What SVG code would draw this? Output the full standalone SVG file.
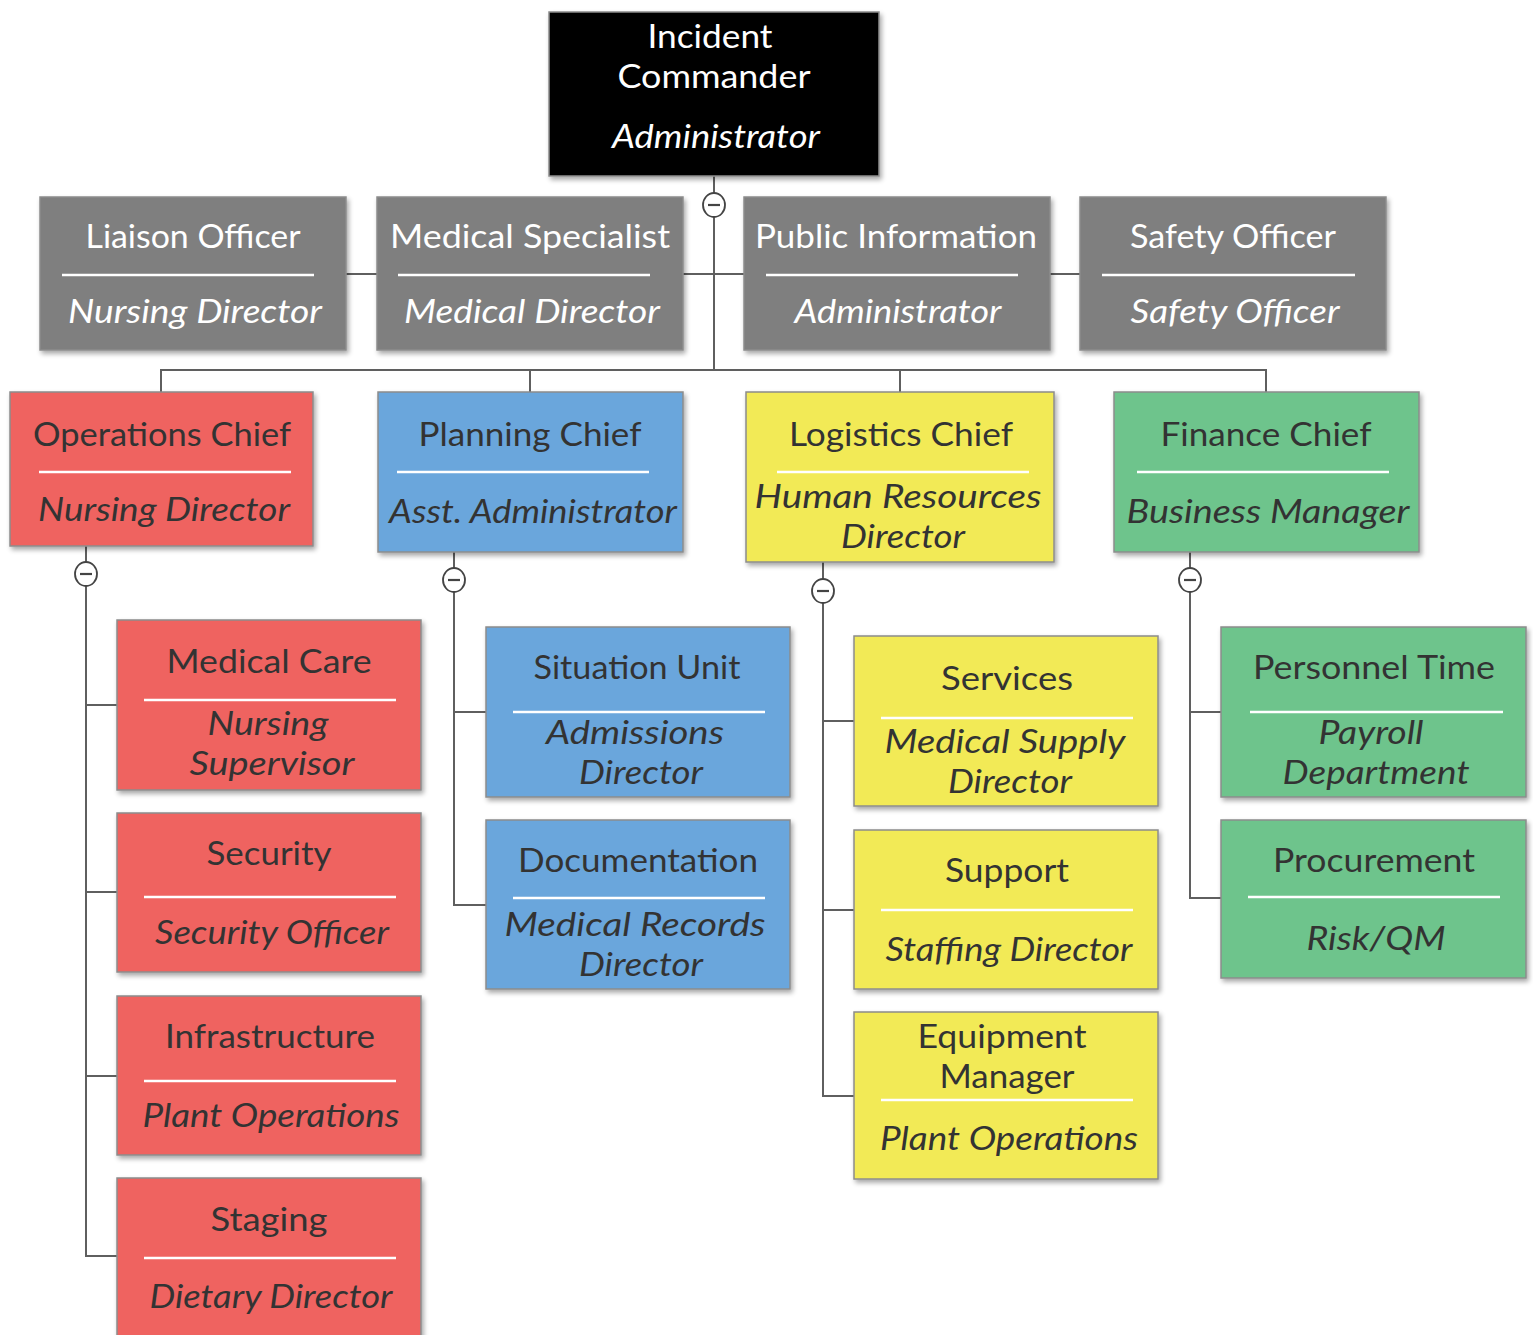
<svg xmlns="http://www.w3.org/2000/svg" width="1533" height="1335" viewBox="0 0 1533 1335">
  <style>
    .box { stroke: #8c8c8c; stroke-width: 1.5; filter: url(#shadow); }
    .k { fill: #040404; }
    .g { fill: #7f7f7f; }
    .r { fill: #ef6461; }
    .b { fill: #6aa6dc; }
    .y { fill: #f2ea57; }
    .n { fill: #6ec48c; }
    .sep { stroke: #ffffff; stroke-width: 2.5; }
    text { font-family: "Lato", "Open Sans", "Liberation Sans", sans-serif; font-size: 32px; text-anchor: middle; }
    .t { fill: #333333; }
    .w { fill: #ffffff; }
    .i { font-style: italic; }
    .wire { fill: none; stroke: #5f5f5f; stroke-width: 2; }
    .tog ellipse { fill: #ffffff; stroke: #444444; stroke-width: 1.8; }
    .tog line { stroke: #444444; stroke-width: 2.2; }
  </style>
  <defs>
    <filter id="shadow" x="-5%" y="-5%" width="112%" height="115%">
      <feGaussianBlur in="SourceAlpha" stdDeviation="2.5"/>
      <feOffset dx="2" dy="3" result="sb"/>
      <feComponentTransfer><feFuncA type="linear" slope="0.35"/></feComponentTransfer>
      <feMerge><feMergeNode/><feMergeNode in="SourceGraphic"/></feMerge>
    </filter>
  </defs>
  <rect width="1533" height="1335" fill="#ffffff"/>

  <!-- connectors -->
  <g id="connectors" class="wire">
    <line x1="714" y1="176" x2="714" y2="370"/>
    <line x1="346" y1="274" x2="377" y2="274"/>
    <line x1="683" y1="274" x2="744" y2="274"/>
    <line x1="1050" y1="274" x2="1080" y2="274"/>
    <path d="M161 392 V370 H1266 V392"/>
    <line x1="530" y1="370" x2="530" y2="392"/>
    <line x1="900" y1="370" x2="900" y2="392"/>
    <!-- operations -->
    <path d="M86 546 V1256 H117"/>
    <line x1="86" y1="705" x2="117" y2="705"/>
    <line x1="86" y1="892" x2="117" y2="892"/>
    <line x1="86" y1="1076" x2="117" y2="1076"/>
    <!-- planning -->
    <path d="M454 552 V905 H486"/>
    <line x1="454" y1="712" x2="486" y2="712"/>
    <!-- logistics -->
    <path d="M823 562 V1096 H854"/>
    <line x1="823" y1="721" x2="854" y2="721"/>
    <line x1="823" y1="910" x2="854" y2="910"/>
    <!-- finance -->
    <path d="M1190 552 V898 H1221"/>
    <line x1="1190" y1="712" x2="1221" y2="712"/>
  </g>

  <!-- collapse toggles -->
  <g id="toggles" class="tog">
    <g><ellipse cx="714" cy="205" rx="11" ry="12"/><line x1="708" y1="205" x2="720" y2="205"/></g>
    <g><ellipse cx="86" cy="574" rx="11" ry="12"/><line x1="80" y1="574" x2="92" y2="574"/></g>
    <g><ellipse cx="454" cy="580" rx="11" ry="12"/><line x1="448" y1="580" x2="460" y2="580"/></g>
    <g><ellipse cx="823" cy="591" rx="11" ry="12"/><line x1="817" y1="591" x2="829" y2="591"/></g>
    <g><ellipse cx="1190" cy="580" rx="11" ry="12"/><line x1="1184" y1="580" x2="1196" y2="580"/></g>
  </g>

  <!-- command -->
  <g id="incident-commander">
    <rect class="box k" x="549" y="12" width="330" height="164"/>
    <text class="w" x="710" y="48" textLength="125" lengthAdjust="spacingAndGlyphs">Incident</text>
    <text class="w" x="714" y="88" textLength="193" lengthAdjust="spacingAndGlyphs">Commander</text>
    <text class="w i" x="716" y="148" textLength="208" lengthAdjust="spacingAndGlyphs">Administrator</text>
  </g>

  <!-- command staff -->
  <g id="liaison-officer">
    <rect class="box g" x="40" y="197" width="306" height="153"/>
    <text class="w" x="193" y="248" textLength="215" lengthAdjust="spacingAndGlyphs">Liaison Officer</text>
    <line class="sep" x1="62" y1="275" x2="314" y2="275"/>
    <text class="w i" x="195" y="323" textLength="254" lengthAdjust="spacingAndGlyphs">Nursing Director</text>
  </g>
  <g id="medical-specialist">
    <rect class="box g" x="377" y="197" width="306" height="153"/>
    <text class="w" x="530" y="248" textLength="280" lengthAdjust="spacingAndGlyphs">Medical Specialist</text>
    <line class="sep" x1="398" y1="275" x2="650" y2="275"/>
    <text class="w i" x="532" y="323" textLength="256" lengthAdjust="spacingAndGlyphs">Medical Director</text>
  </g>
  <g id="public-information">
    <rect class="box g" x="744" y="197" width="306" height="153"/>
    <text class="w" x="896" y="248" textLength="282" lengthAdjust="spacingAndGlyphs">Public Information</text>
    <line class="sep" x1="766" y1="275" x2="1018" y2="275"/>
    <text class="w i" x="898" y="323" textLength="207" lengthAdjust="spacingAndGlyphs">Administrator</text>
  </g>
  <g id="safety-officer">
    <rect class="box g" x="1080" y="197" width="306" height="153"/>
    <text class="w" x="1233" y="248" textLength="206" lengthAdjust="spacingAndGlyphs">Safety Officer</text>
    <line class="sep" x1="1102" y1="275" x2="1355" y2="275"/>
    <text class="w i" x="1235" y="323" textLength="209" lengthAdjust="spacingAndGlyphs">Safety Officer</text>
  </g>

  <!-- section chiefs -->
  <g id="operations-chief">
    <rect class="box r" x="10" y="392" width="303" height="154"/>
    <text class="t" x="162" y="446" textLength="258" lengthAdjust="spacingAndGlyphs">Operations Chief</text>
    <line class="sep" x1="39" y1="472" x2="291" y2="472"/>
    <text class="t i" x="164" y="521" textLength="252" lengthAdjust="spacingAndGlyphs">Nursing Director</text>
  </g>
  <g id="planning-chief">
    <rect class="box b" x="378" y="392" width="305" height="160"/>
    <text class="t" x="530" y="446" textLength="223" lengthAdjust="spacingAndGlyphs">Planning Chief</text>
    <line class="sep" x1="397" y1="472" x2="649" y2="472"/>
    <text class="t i" x="533" y="523" textLength="288" lengthAdjust="spacingAndGlyphs">Asst. Administrator</text>
  </g>
  <g id="logistics-chief">
    <rect class="box y" x="746" y="392" width="308" height="170"/>
    <text class="t" x="901" y="446" textLength="224" lengthAdjust="spacingAndGlyphs">Logistics Chief</text>
    <line class="sep" x1="777" y1="472" x2="1029" y2="472"/>
    <text class="t i" x="898" y="508" textLength="287" lengthAdjust="spacingAndGlyphs">Human Resources</text>
    <text class="t i" x="903" y="548" textLength="124" lengthAdjust="spacingAndGlyphs">Director</text>
  </g>
  <g id="finance-chief">
    <rect class="box n" x="1114" y="392" width="305" height="160"/>
    <text class="t" x="1266" y="446" textLength="211" lengthAdjust="spacingAndGlyphs">Finance Chief</text>
    <line class="sep" x1="1137" y1="472" x2="1389" y2="472"/>
    <text class="t i" x="1268" y="523" textLength="283" lengthAdjust="spacingAndGlyphs">Business Manager</text>
  </g>

  <!-- operations units -->
  <g id="medical-care">
    <rect class="box r" x="117" y="620" width="304" height="170"/>
    <text class="t" x="269" y="673" textLength="205" lengthAdjust="spacingAndGlyphs">Medical Care</text>
    <line class="sep" x1="144" y1="700" x2="396" y2="700"/>
    <text class="t i" x="268" y="735" textLength="121" lengthAdjust="spacingAndGlyphs">Nursing</text>
    <text class="t i" x="272" y="775" textLength="165" lengthAdjust="spacingAndGlyphs">Supervisor</text>
  </g>
  <g id="security">
    <rect class="box r" x="117" y="813" width="304" height="159"/>
    <text class="t" x="269" y="865" textLength="125" lengthAdjust="spacingAndGlyphs">Security</text>
    <line class="sep" x1="144" y1="897" x2="396" y2="897"/>
    <text class="t i" x="272" y="944" textLength="234" lengthAdjust="spacingAndGlyphs">Security Officer</text>
  </g>
  <g id="infrastructure">
    <rect class="box r" x="117" y="996" width="304" height="159"/>
    <text class="t" x="270" y="1048" textLength="210" lengthAdjust="spacingAndGlyphs">Infrastructure</text>
    <line class="sep" x1="144" y1="1081" x2="396" y2="1081"/>
    <text class="t i" x="271" y="1127" textLength="257" lengthAdjust="spacingAndGlyphs">Plant Operations</text>
  </g>
  <g id="staging">
    <rect class="box r" x="117" y="1178" width="304" height="170"/>
    <text class="t" x="269" y="1231" textLength="117" lengthAdjust="spacingAndGlyphs">Staging</text>
    <line class="sep" x1="144" y1="1258" x2="396" y2="1258"/>
    <text class="t i" x="271" y="1308" textLength="243" lengthAdjust="spacingAndGlyphs">Dietary Director</text>
  </g>

  <!-- planning units -->
  <g id="situation-unit">
    <rect class="box b" x="486" y="627" width="304" height="170"/>
    <text class="t" x="637" y="679" textLength="207" lengthAdjust="spacingAndGlyphs">Situation Unit</text>
    <line class="sep" x1="513" y1="712" x2="765" y2="712"/>
    <text class="t i" x="635" y="744" textLength="178" lengthAdjust="spacingAndGlyphs">Admissions</text>
    <text class="t i" x="641" y="784" textLength="124" lengthAdjust="spacingAndGlyphs">Director</text>
  </g>
  <g id="documentation">
    <rect class="box b" x="486" y="820" width="304" height="169"/>
    <text class="t" x="638" y="872" textLength="240" lengthAdjust="spacingAndGlyphs">Documentation</text>
    <line class="sep" x1="513" y1="898" x2="765" y2="898"/>
    <text class="t i" x="635" y="936" textLength="261" lengthAdjust="spacingAndGlyphs">Medical Records</text>
    <text class="t i" x="641" y="976" textLength="124" lengthAdjust="spacingAndGlyphs">Director</text>
  </g>

  <!-- logistics units -->
  <g id="services">
    <rect class="box y" x="854" y="636" width="304" height="170"/>
    <text class="t" x="1007" y="690" textLength="132" lengthAdjust="spacingAndGlyphs">Services</text>
    <line class="sep" x1="881" y1="718" x2="1133" y2="718"/>
    <text class="t i" x="1005" y="753" textLength="241" lengthAdjust="spacingAndGlyphs">Medical Supply</text>
    <text class="t i" x="1010" y="793" textLength="124" lengthAdjust="spacingAndGlyphs">Director</text>
  </g>
  <g id="support">
    <rect class="box y" x="854" y="830" width="304" height="159"/>
    <text class="t" x="1007" y="882" textLength="124" lengthAdjust="spacingAndGlyphs">Support</text>
    <line class="sep" x1="881" y1="910" x2="1133" y2="910"/>
    <text class="t i" x="1009" y="961" textLength="247" lengthAdjust="spacingAndGlyphs">Staffing Director</text>
  </g>
  <g id="equipment-manager">
    <rect class="box y" x="854" y="1012" width="304" height="167"/>
    <text class="t" x="1002" y="1048" textLength="169" lengthAdjust="spacingAndGlyphs">Equipment</text>
    <text class="t" x="1007" y="1088" textLength="135" lengthAdjust="spacingAndGlyphs">Manager</text>
    <line class="sep" x1="881" y1="1100" x2="1133" y2="1100"/>
    <text class="t i" x="1009" y="1150" textLength="258" lengthAdjust="spacingAndGlyphs">Plant Operations</text>
  </g>

  <!-- finance units -->
  <g id="personnel-time">
    <rect class="box n" x="1221" y="627" width="305" height="170"/>
    <text class="t" x="1374" y="679" textLength="242" lengthAdjust="spacingAndGlyphs">Personnel Time</text>
    <line class="sep" x1="1250" y1="712" x2="1503" y2="712"/>
    <text class="t i" x="1371" y="744" textLength="105" lengthAdjust="spacingAndGlyphs">Payroll</text>
    <text class="t i" x="1376" y="784" textLength="187" lengthAdjust="spacingAndGlyphs">Department</text>
  </g>
  <g id="procurement">
    <rect class="box n" x="1221" y="820" width="305" height="158"/>
    <text class="t" x="1374" y="872" textLength="202" lengthAdjust="spacingAndGlyphs">Procurement</text>
    <line class="sep" x1="1248" y1="897" x2="1500" y2="897"/>
    <text class="t i" x="1376" y="950" textLength="139" lengthAdjust="spacingAndGlyphs">Risk/QM</text>
  </g>
</svg>
